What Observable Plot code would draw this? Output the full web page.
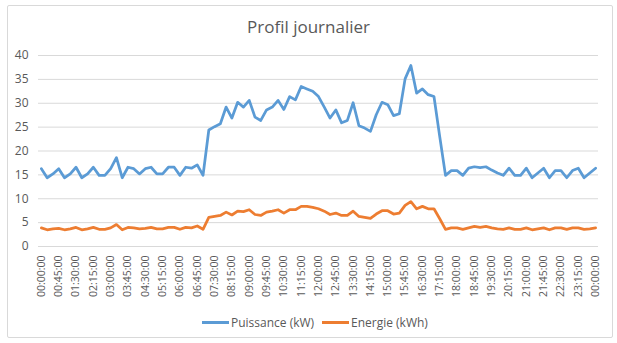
<!DOCTYPE html>
<html>
<head>
<meta charset="utf-8">
<script src="https://cdn.jsdelivr.net/npm/d3@7"></script>
<script src="https://cdn.jsdelivr.net/npm/@observablehq/plot@0.6"></script>
<style>
  html, body { margin: 0; padding: 0; background: #fff; }
  #wrap { position: relative; width: 617px; height: 343px; font-family: "Open Sans", sans-serif; color: #595959; }
  #frame { position: absolute; left: 7px; top: 5px; width: 604px; height: 331px; border: 1px solid #d9d9d9; border-radius: 2px; }
  #title { position: absolute; left: 0; width: 617px; top: 15px; text-align: center; font-size: 17px; color: #595959; }
  #chart { position: absolute; left: 0; top: 0; }
  .leg { position: absolute; top: 314px; font-size: 12px; color: #595959; display: flex; align-items: center; }
  .leg span.sw { display: inline-block; width: 27px; height: 3px; margin-right: 2px; }
</style>
</head>
<body>
<div id="wrap">
  <div id="frame"></div>
  <div id="chart"></div>
  <div id="title">Profil journalier</div>
  <div class="leg" style="left:202px"><span class="sw" style="background:#5B9BD5"></span>Puissance (kW)</div>
  <div class="leg" style="left:322px"><span class="sw" style="background:#ED7D31"></span>Energie (kWh)</div>
</div>
<script>
const seriesNames = ["Puissance (kW)", "Energie (kWh)"];
const timeLabels = ["00:00:00","00:45:00","01:30:00","02:15:00","03:00:00","03:45:00","04:30:00","05:15:00","06:00:00","06:45:00","07:30:00","08:15:00","09:00:00","09:45:00","10:30:00","11:15:00","12:00:00","12:45:00","13:30:00","14:15:00","15:00:00","15:45:00","16:30:00","17:15:00","18:00:00","18:45:00","19:30:00","20:15:00","21:00:00","21:45:00","22:30:00","23:15:00","00:00:00"];
const yTicks = [0, 5, 10, 15, 20, 25, 30, 35, 40];

const puissance = [
  16.3, 14.4, 15.2, 16.3, 14.4, 15.2, 16.6, 14.4, 15.2, 16.6,
  14.9, 14.9, 16.3, 18.6, 14.4, 16.6, 16.3, 15.2, 16.3, 16.6,
  15.2, 15.2, 16.6, 16.6, 14.9, 16.6, 16.4, 17.1, 14.9, 24.4,
  25.1, 25.7, 29.2, 26.9, 30.2, 29.2, 30.6, 27.1, 26.4, 28.6,
  29.2, 30.6, 28.7, 31.4, 30.7, 33.5, 33.0, 32.5, 31.4, 29.2,
  26.9, 28.6, 25.9, 26.4, 30.1, 25.3, 24.8, 24.1, 27.6, 30.2,
  29.7, 27.4, 27.8, 35.1, 37.9, 32.1, 33.0, 31.8, 31.4, 23.0,
  14.9, 15.9, 15.9, 14.9, 16.4, 16.7, 16.5, 16.7, 16.0, 15.4,
  14.9, 16.4, 14.9, 14.9, 16.4, 14.4, 15.4, 16.4, 14.4, 15.9,
  15.9, 14.4, 15.9, 16.4, 14.4, 15.4, 16.4
];
const energie = [
  3.9, 3.5, 3.7, 3.8, 3.5, 3.7, 4.0, 3.5, 3.7, 4.0,
  3.6, 3.6, 3.9, 4.6, 3.5, 4.0, 3.9, 3.7, 3.8, 4.0,
  3.7, 3.7, 4.0, 4.0, 3.6, 4.0, 3.9, 4.3, 3.6, 6.1,
  6.3, 6.5, 7.2, 6.6, 7.4, 7.3, 7.7, 6.7, 6.5, 7.2,
  7.4, 7.7, 7.0, 7.7, 7.7, 8.4, 8.4, 8.2, 7.9, 7.4,
  6.7, 7.0, 6.5, 6.5, 7.4, 6.3, 6.1, 5.9, 6.8, 7.5,
  7.5, 6.8, 7.0, 8.6, 9.4, 7.9, 8.4, 7.9, 7.9, 5.8,
  3.6, 3.9, 3.9, 3.6, 3.9, 4.2, 4.0, 4.2, 3.9, 3.7,
  3.6, 3.9, 3.6, 3.6, 3.9, 3.5, 3.7, 3.9, 3.5, 3.9,
  3.9, 3.6, 3.9, 3.9, 3.6, 3.7, 3.9
];

const rowsP = puissance.map((v, i) => ({i, v}));
const rowsE = energie.map((v, i) => ({i, v}));
const tickIdx = timeLabels.map((_, k) => k * 3);

const chart = Plot.plot({
  width: 617,
  height: 343,
  marginLeft: 38,
  marginRight: 19,
  marginTop: 55,
  marginBottom: 97,
  style: { fontFamily: "Open Sans, sans-serif", color: "#595959", background: "transparent", overflow: "visible" },
  x: { type: "linear", domain: [-0.5, puissance.length - 0.5] },
  y: { domain: [0, 40] },
  marks: [
    Plot.gridY(yTicks, { stroke: "#d9d9d9", strokeOpacity: 1, strokeWidth: 1 }),
    Plot.axisY(yTicks, { tickSize: 0, tickPadding: 10, fontSize: 12, label: null }),
    Plot.axisX(tickIdx, { tickSize: 0, tickPadding: 9, tickRotate: -90, fontSize: 10.5, label: null, tickFormat: d => timeLabels[d / 3] }),
    Plot.line(rowsP, { x: "i", y: "v", stroke: "#5B9BD5", strokeWidth: 2.75, strokeLinejoin: "round", strokeLinecap: "round" }),
    Plot.line(rowsE, { x: "i", y: "v", stroke: "#ED7D31", strokeWidth: 2.75, strokeLinejoin: "round", strokeLinecap: "round" })
  ]
});
document.getElementById("chart").appendChild(chart);
</script>
</body>
</html>
